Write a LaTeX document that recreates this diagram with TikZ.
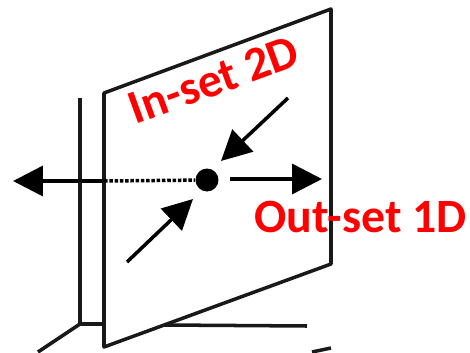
\documentclass[tikz,border=0pt]{standalone}
\usepackage{fontspec}
\setmainfont{Carlito}
\usepackage{tikz}
\usetikzlibrary{arrows.meta}
\tikzset{
    edge/.style={line width=2pt, black!90},
    flow/.style={line width=2pt, black, -{Triangle[length=0.6cm, width=0.6cm]}},
    setlabel/.style={font=\fontsize{27.2}{27.2}\selectfont\bfseries, text=red, inner sep=0pt}
}
\begin{document}
\begin{tikzpicture}[x=0.02cm, y=-0.02cm]
    \useasboundingbox (0,0) rectangle (470,352);
    % Back post
    \coordinate (posttop) at (80,98);
    \coordinate (postbase) at (80,324);
    \coordinate (postfoot) at (104,324);
    \coordinate (floorleft) at (38,352);
    \draw[edge] (posttop) -- (postbase) -- (postfoot);
    \draw[edge] (postbase) -- (floorleft);
    % Floor
    \coordinate (floorback) at (165,325);
    \coordinate (floorend) at (307,326);
    \coordinate (floornear) at (312,352);
    \coordinate (floortip) at (331,348);
    \draw[edge] (floorback) -- (floorend);
    \draw[edge] (floornear) -- (floortip);
    % Plane
    \coordinate (planetl) at (104,93);
    \coordinate (planetr) at (331,9);
    \coordinate (planebr) at (331,264);
    \coordinate (planebl) at (104,347);
    \draw[edge, line join=round] (planetl) -- (planetr) -- (planebr) -- (planebl) -- cycle;
    % Fixed point
    \node[circle, fill=black, minimum size=0.46cm, inner sep=0pt] (fixed) at (207,180) {};
    % Out-set arrows
    \coordinate (leftend) at (13,181);
    \coordinate (rightend) at (322,179);
    \coordinate (planecross) at (104,181);
    \coordinate (rightstart) at (230,179);
    \draw[flow] (planecross) -- (leftend);
    \draw[line width=2pt, densely dotted] (planecross) -- (fixed);
    \draw[flow] (rightstart) -- (rightend);
    % In-set arrows
    \coordinate (upstart) at (288,98);
    \coordinate (uptip) at (221,161);
    \coordinate (lowstart) at (127,262);
    \coordinate (lowtip) at (193,199);
    \draw[flow] (upstart) -- (uptip);
    \draw[flow] (lowstart) -- (lowtip);
    % Labels
    \node[setlabel, rotate=20, anchor=base west] (inset) at (135,125) {In-set 2D};
    \node[setlabel, anchor=base west] (outset) at (254,232) {Out-set 1D};
\end{tikzpicture}
\end{document}
